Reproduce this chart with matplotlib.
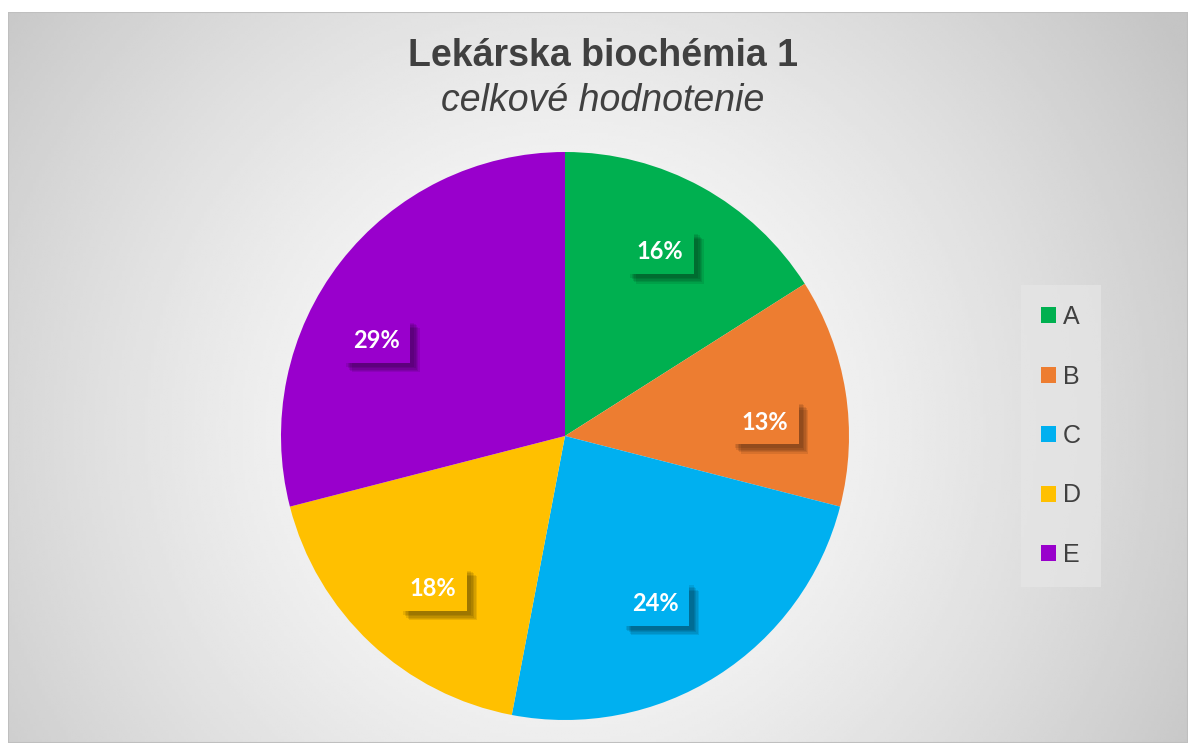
import numpy as np
import matplotlib
matplotlib.use("Agg")
import matplotlib.pyplot as plt
import matplotlib.patheffects as pe
from matplotlib.patches import Rectangle

# data
categories = ["A", "B", "C", "D", "E"]
shares = [16, 13, 24, 18, 29]
colors = ["#00B050", "#ED7D31", "#00B0F0", "#FFC000", "#9900CC"]
title = "Lekárska biochémia 1"
subtitle = "celkové hodnotenie"

# label placement tweaks (deg shift from wedge middle, radius) - Excel best fit look
label_shift = [-1.5, 5, 4, -2.4, -11]
label_dist = [0.73, 0.705, 0.67, 0.71, 0.745]

W, H = 1188, 743
fig = plt.figure(figsize=(W / 100, H / 100), dpi=100)
fig.patch.set_facecolor("white")

# chart area with radial gradient background
x0, y0 = 8, 12   # top-left of chart area in pixels
bg = fig.add_axes([x0 / W, 0, (W - x0) / W, (H - y0) / H])
bg.set_axis_off()
gx, gy = np.meshgrid(np.linspace(0, 1, 400), np.linspace(0, 1, 250))
cx, cy = (565 - x0) / (W - x0), (430 - y0) / (H - y0)
d = np.sqrt(((gx - cx) * 1.0) ** 2 + ((gy - cy) * 0.62) ** 2)
d = np.clip(d / 0.62, 0, 1)
val = 1.0 - 0.23 * d ** 1.4
bg.imshow(val, cmap="gray", vmin=0, vmax=1, extent=[0, 1, 1, 0], aspect="auto", interpolation="bilinear")
bg.set_xlim(0, 1)
bg.set_ylim(1, 0)
bg.add_patch(Rectangle((0, 0), 1, 1, transform=bg.transAxes, fill=False, edgecolor="#BFBFBF", lw=1.5))

# title
fig.text(603 / W, 1 - 56 / H, title, ha="center", va="center", fontsize=27, fontweight="bold",
         color="#404040", family="Liberation Sans")
fig.text(603 / W, 1 - 101 / H, subtitle, ha="center", va="center", fontsize=27, style="italic",
         color="#404040", family="Liberation Sans")

# pie
r = 284
pcx, pcy = 565, 436
ax = fig.add_axes([(pcx - r) / W, (H - pcy - r) / H, 2 * r / W, 2 * r / H])
wedges, texts, autotexts = ax.pie(shares, colors=colors, startangle=90, counterclock=False,
                                  radius=1, autopct="%d%%", pctdistance=0.73,
                                  wedgeprops=dict(linewidth=0))
ax.set_xlim(-1, 1)
ax.set_ylim(-1, 1)
ax.set_aspect("equal")
shadow = [pe.SimplePatchShadow(offset=(3 + k, -3 - k), shadow_rgbFace="black", alpha=0.09)
          for k in range(0, 5)]
for w, t, c, sh, dist in zip(wedges, autotexts, colors, label_shift, label_dist):
    mid = np.deg2rad((w.theta1 + w.theta2) / 2 - sh)
    t.set_position((dist * np.cos(mid), dist * np.sin(mid)))
    t.set_color("white")
    t.set_fontsize(17)
    t.set_fontweight("bold")
    t.set_family("Lato")
    t.set_bbox(dict(boxstyle="square,pad=0.45", facecolor=c, edgecolor="none"))
    t.get_bbox_patch().set_path_effects(shadow + [pe.Normal()])

# legend
lg = ax.legend(wedges, categories, loc="center left", bbox_to_anchor=((1021 - pcx + r) / (2 * r), 0.5),
               frameon=True, fancybox=False, handlelength=0.6, handleheight=0.6,
               labelspacing=1.42, handletextpad=0.28, borderpad=0.8, borderaxespad=0,
               prop=dict(family="Liberation Sans", size=18))
lg.get_frame().set_facecolor("#E6E6E6")
lg.get_frame().set_edgecolor("none")
lg.get_frame().set_alpha(0.7)
for txt in lg.get_texts():
    txt.set_color("#404040")

fig.savefig("out.png", dpi=100)
